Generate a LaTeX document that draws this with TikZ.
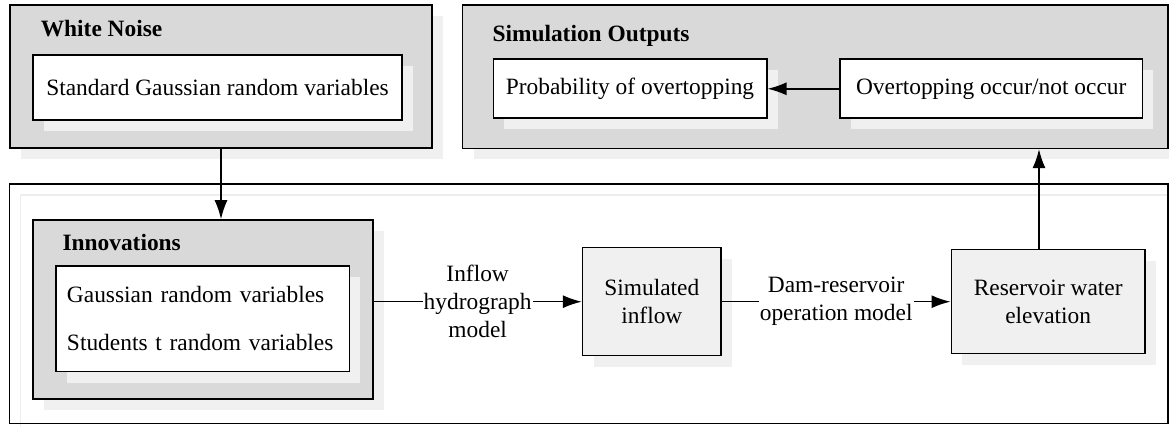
\documentclass[tikz,border=0pt]{standalone}
\usepackage{fontspec}
\setmainfont{Liberation Serif}
\usetikzlibrary{positioning,shadows,arrows.meta}
\newcommand{\txtfont}{\fontsize{11.7pt}{14pt}\selectfont}
\tikzset{>={Latex[length=9.5pt,width=6.5pt]}}
\tikzset{
  boxshadow/.style={drop shadow={shadow xshift=5.5pt, shadow yshift=-5.5pt, fill=black!6, opacity=1}},
  mainbox/.style={draw, drop shadow={shadow xshift=5.5pt, shadow yshift=-5.5pt, draw=black!7, line width=0.6pt, fill=white, opacity=1}},
  groupbox/.style={draw, fill=black!15, boxshadow},
  itembox/.style={draw, fill=white, boxshadow},
  blockbox/.style={draw, fill=black!6, align=center, boxshadow},
  grouptitle/.style={font=\txtfont\bfseries, inner sep=0pt, anchor=base west},
  lbl/.style={fill=white, inner sep=0.5pt, align=center}
}

\begin{document}
\begin{tikzpicture}[x=0.5pt, y=-0.5pt, font=\txtfont, line width=0.8pt]
      \useasboundingbox (0,0) rectangle (1169,427);
      % outer frame
      \node[mainbox, minimum width=579.35pt, minimum height=119.65pt] (n2) at (588.7,303.7) {};
      % white noise
      \node[groupbox, minimum width=211pt, minimum height=71.5pt] (n0) at (221,76.5) {};
      \node[grouptitle] (t0) at (40,37) {White Noise};
      \node[itembox, minimum width=184.5pt, minimum height=32.5pt] (a0) at (217.5,87.5) {Standard Gaussian random variables};
      % simulation outputs
      \node[groupbox, minimum width=352.65pt, minimum height=71.65pt] (n1) at (815.3,76.7) {};
      \node[grouptitle] (t1) at (491.7,41.7) {Simulation Outputs};
      \node[itembox, minimum width=136.7pt, minimum height=29.5pt] (a1) at (630,88.8) {Probability of overtopping};
      \node[itembox, right of=a1, node distance=180.6pt, minimum width=151.15pt, minimum height=29.5pt] (a2) {Overtopping occur/not occur};
      % innovations
      \node[groupbox, minimum width=170pt, minimum height=89.5pt] (n3) at (202.7,309.5) {};
      \node[grouptitle] (t3) at (61.7,250.7) {Innovations};
      \node[itembox, text width=135.7pt, inner xsep=5.5pt, minimum height=52.85pt, align=left] (a3) at (202.7,318.8) {Gaussian random variables\\[10pt]Students t random variables};
      % inflow and reservoir
      \node[blockbox, minimum width=69.15pt, minimum height=54pt] (b0) at (651.8,301.7) {Simulated\\inflow};
      \node[blockbox, right of=b0, node distance=198.2pt, minimum width=96.85pt, minimum height=52pt] (b1) {Reservoir water\\elevation};
      \coordinate (aux1) at ([xshift=-4.6pt]b1.north);
      \draw[->] (n0.south) -- (n0.south |- n3.north);
      \draw[->] (n3.east |- b0) -- node[lbl] {Inflow\\hydrograph\\model} (b0);
      \draw[->] (b0) -- node[lbl] {Dam-reservoir\\operation model} (b1);
      \draw[->] (aux1) -- (aux1 |- n1.south);
      \draw[->] (a2) -- (a1);
\end{tikzpicture}
\end{document}
